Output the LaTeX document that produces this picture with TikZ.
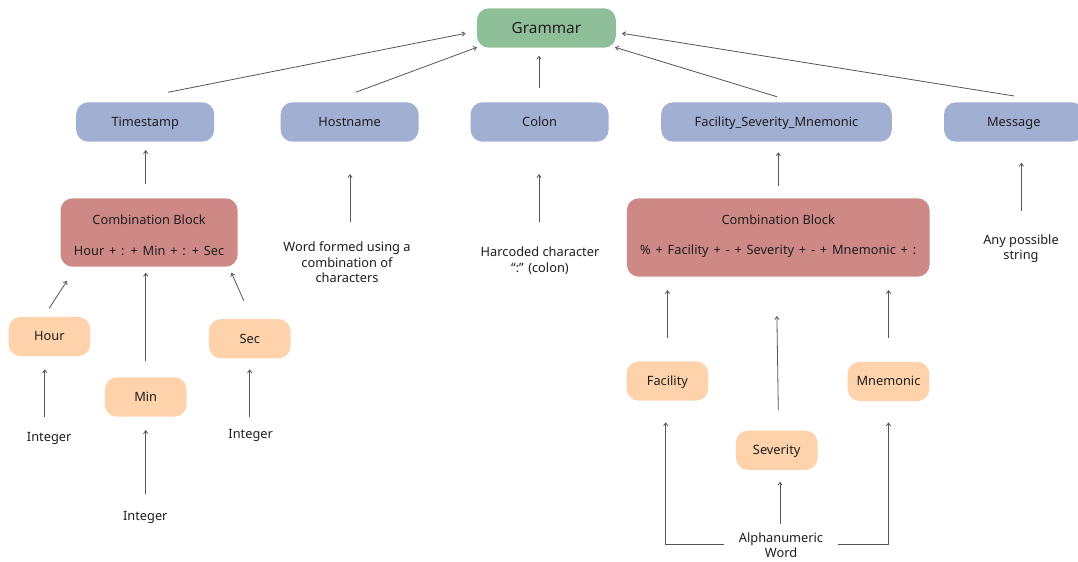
\documentclass[tikz,border=0pt]{standalone}
\usepackage{fontspec}
\setmainfont{Noto Sans}
\usetikzlibrary{arrows.meta}
\definecolor{gramfill}{HTML}{8FBF98}
\definecolor{partfill}{HTML}{A1AFD3}
\definecolor{combfill}{HTML}{CE8987}
\definecolor{leaffill}{HTML}{FED3AB}
\definecolor{ink}{HTML}{1E1E1E}
\definecolor{wire}{HTML}{555555}
\tikzset{
  x=0.75pt, y=-0.75pt,
  every node/.style={text=ink, font=\fontsize{9.6}{11.8}\selectfont},
  box/.style 2 args={rectangle, rounded corners=9pt, draw=none, inner sep=0pt,
    minimum width=#1*0.75pt, minimum height=#2*0.75pt,
    text height=6.6pt, text depth=0pt},
  gram/.style={box={139}{39.4}, fill=gramfill, font=\fontsize{11.5}{13}\selectfont,
    text height=8pt},
  part/.style={box={#1}{39.4}, fill=partfill},
  comb/.style 2 args={box={#1}{#2}, fill=combfill},
  leaf/.style={box={81.6}{39.2}, fill=leaffill},
  note/.style={align=center, inner sep=0pt},
  formula/.style={inner sep=0pt, execute at begin node={\spaceskip=3.6pt\relax}},
  link/.style={draw=wire, line width=0.6pt, -{Straight Barb[length=2.2pt,width=3.2pt]}}
}
\begin{document}
\begin{tikzpicture}
\useasboundingbox[fill=white] (0,0) rectangle (1078,561);

% root and the five fields
\node[gram] (grammar) at (546.4,28) {Grammar};
\node[part=138] (ts) at (145.2,122) {Timestamp};
\node[part=138] (host) at (349.6,122) {Hostname};
\node[part=138] (colon) at (539.6,122) {Colon};
\node[part=230.7] (fsm) at (776.5,122) {Facility\_Severity\_Mnemonic};
\node[part=139.6] (msg) at (1013.8,122) {Message};

% timestamp composition
\node[comb={177}{68.4}] (cbt) at (149.1,232.5) {};
\node[note] (cbttitle) at (149.1,219.5) {Combination Block};
\node[formula] (cbtexpr) at (149.1,251) {Hour + : + Min + : + Sec};
\node[leaf] (hour) at (49.4,336.5) {Hour};
\node[leaf] (min) at (145.7,397) {Min};
\node[leaf] (sec) at (249.7,338.7) {Sec};
\node[note] (inth) at (49.2,438.8) {Integer};
\node[note] (intm) at (145.3,517.2) {Integer};
\node[note] (ints) at (250.7,435.8) {Integer};

% descriptions of the simple fields
\node[note] (hostdesc) at (347,262.3) {Word formed using a\\combination of\\characters};
\node[note] (colondesc) at (540,260.7) {Harcoded character\\“:” (colon)};
\node[note] (msgdesc) at (1021,248.7) {Any possible\\string};

% facility / severity / mnemonic composition
\node[comb={302.7}{78.4}] (cbf) at (778.2,237.5) {};
\node[note] (cbftitle) at (778.2,220) {Combination Block};
\node[formula] (cbfexpr) at (778.2,251.5) {\% + Facility + - + Severity + - + Mnemonic + :};
\node[leaf] (fac) at (667.4,381) {Facility};
\node[leaf] (mnem) at (888.5,381.5) {Mnemonic};
\node[leaf] (sev) at (776.7,450.3) {Severity};
\node[note, font=\fontsize{9.6}{11}\selectfont] (alnum) at (781,545.5) {Alphanumeric\\Word};

% connector end points
\coordinate (tsA) at (168,92.3);     \coordinate (gA) at (465.6,33.3);
\coordinate (hostA) at (355.7,92.3); \coordinate (gB) at (477,47.3);
\coordinate (colA) at (539,88.3);    \coordinate (gC) at (539,55.7);
\coordinate (fsmA) at (776.9,96.7);  \coordinate (gD) at (615,47.3);
\coordinate (msgA) at (1014.2,96);   \coordinate (gE) at (622,33.3);

\coordinate (cbtUp) at (145.7,184.3);  \coordinate (tsDn) at (145.7,150);
\coordinate (hdUp) at (350,222.3);     \coordinate (hostDn) at (350,174);
\coordinate (cdUp) at (539,222.3);     \coordinate (colDn) at (539,174);
\coordinate (cbfUp) at (778.3,186);    \coordinate (fsmDn) at (778.3,152.3);
\coordinate (mdUp) at (1021.4,210.7);  \coordinate (msgDn) at (1021.4,162.7);

\coordinate (hourUp) at (49.2,308.3);  \coordinate (cbtH) at (67.1,280.7);
\coordinate (minUp) at (145.7,360.7);  \coordinate (cbtM) at (145.7,272.7);
\coordinate (secUp) at (243.8,300.7);  \coordinate (cbtS) at (231.4,272.7);
\coordinate (ihUp) at (44.8,416.7);    \coordinate (hourDn) at (44.8,369.3);
\coordinate (isUp) at (249.7,416.7);   \coordinate (secDn) at (249.7,369.3);
\coordinate (imUp) at (145.7,494);     \coordinate (minDn) at (145.7,430);

\coordinate (facUp) at (667.4,338);    \coordinate (cbfF) at (667.4,290);
\coordinate (mnemUp) at (888.5,338);   \coordinate (cbfM) at (888.5,290);
\coordinate (sevUp) at (778.3,410);    \coordinate (cbfS) at (776.9,316);
\coordinate (anUp) at (780,524.3);     \coordinate (sevDn) at (780,481.7);
\coordinate (anL) at (724.2,544);      \coordinate (facDn) at (665.7,422.3);
\coordinate (anR) at (838.2,544);      \coordinate (mnemDn) at (888.5,422.3);

% connectors
\draw[link] (tsA) -- (gA);
\draw[link] (hostA) -- (gB);
\draw[link] (colA) -- (gC);
\draw[link] (fsmA) -- (gD);
\draw[link] (msgA) -- (gE);
\draw[link] (cbtUp) -- (tsDn);
\draw[link] (hdUp) -- (hostDn);
\draw[link] (cdUp) -- (colDn);
\draw[link] (cbfUp) -- (fsmDn);
\draw[link] (mdUp) -- (msgDn);
\draw[link] (hourUp) -- (cbtH);
\draw[link] (minUp) -- (cbtM);
\draw[link] (secUp) -- (cbtS);
\draw[link] (ihUp) -- (hourDn);
\draw[link] (isUp) -- (secDn);
\draw[link] (imUp) -- (minDn);
\draw[link] (facUp) -- (cbfF);
\draw[link] (mnemUp) -- (cbfM);
\draw[link] (sevUp) -- (cbfS);
\draw[link] (anUp) -- (sevDn);
\draw[link] (anL) -| (facDn);
\draw[link] (anR) -| (mnemDn);
\end{tikzpicture}
\end{document}
